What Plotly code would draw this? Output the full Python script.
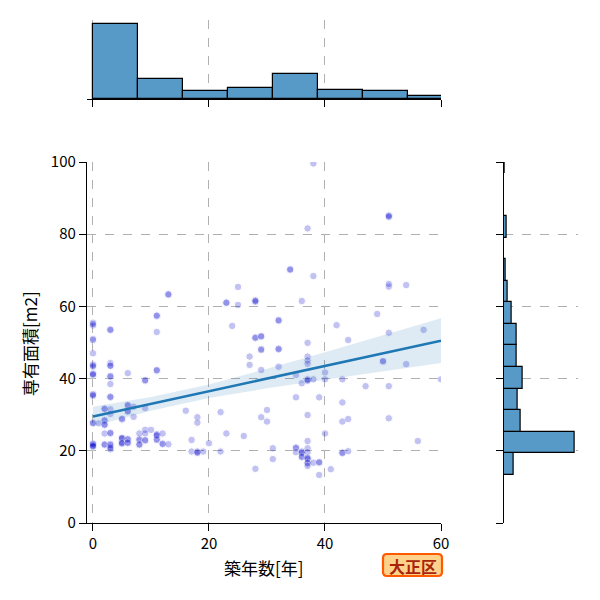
import numpy as np
import plotly.graph_objects as go

# ---------------- data ----------------
age = [
    0, 0, 0, 0, 0, 3, 3, 11, 11, 11, 13, 13, 23, 23, 25, 25, 24, 28, 28, 28, 28, 28, 29, 29,
    32, 32, 29, 29, 32, 32, 38, 37, 51, 51, 51, 34, 34, 38, 36, 51, 51, 54, 49, 42, 44, 51,
    57, 37, 32, 37, 37, 37, 35, 36, 37, 37, 37, 38, 40, 40, 43, 50, 50, 54, 60, 47, 51, 35,
    39, 43, 37, 43, 44, 51, 40, 56, 31, 31, 35, 35, 35, 36, 36, 36, 36, 36, 37, 37, 37, 37,
    37, 37, 37, 37, 37, 38, 39, 39, 39, 41, 43, 43, 44,
    0, 0, 0, 0, 0, 0, 0, 3, 3, 3, 3, 3, 3, 3, 3, 0, 0, 0, 6, 11, 11, 9, 9, 2, 2, 3, 3, 6, 6,
    6, 6, 7, 7, 9, 5, 5, 0, 0, 1, 2, 2, 2, 2, 2, 3, 3, 0, 0, 0, 0, 0, 0, 2, 2, 3, 3, 3, 3, 3,
    5, 5, 5, 5, 5, 5, 6, 6, 6, 6, 8, 8, 8, 8, 8, 9, 9, 9, 9, 10, 11, 11, 11, 11, 11, 12, 12,
    12, 13, 16, 17, 17, 18, 18, 18, 18, 18, 19, 20, 22, 22, 23, 26, 27, 27, 29, 30, 29, 30, 28,
]
area = [
    55.5, 54.7, 55.1, 51.0, 50.7, 53.4, 53.6, 57.3, 57.5, 52.9, 63.2, 63.4, 60.9, 61.1, 65.4,
    60.4, 54.6, 61.5, 61.7, 61.3, 51.2, 51.4, 51.6, 51.8, 56.0, 56.2, 48.2, 47.9, 48.3, 48.1,
    99.6, 81.6, 85.0, 85.2, 84.8, 70.1, 70.3, 68.4, 61.5, 65.5, 66.2, 65.9, 57.9, 54.8, 50.7,
    52.7, 53.5, 49.9, 43.3, 46.1, 45.0, 44.1, 41.0, 38.7, 39.6, 39.8, 39.4, 39.8, 41.7, 39.8,
    39.8, 44.7, 44.9, 44.0, 39.8, 37.9, 37.9, 34.8, 34.8, 33.4, 29.9, 28.1, 28.8, 29.0, 24.8,
    22.7, 20.7, 17.7, 20.7, 20.9, 19.6, 19.6, 19.8, 19.4, 18.2, 18.4, 22.7, 20.7, 19.6, 17.9,
    18.1, 17.7, 16.5, 16.7, 15.8, 16.7, 16.7, 16.9, 13.3, 14.9, 19.3, 19.5, 19.9,
    47.0, 43.9, 43.3, 43.6, 41.4, 41.0, 41.2, 44.3, 43.5, 43.6, 40.5, 40.7, 38.5, 34.8, 35.0,
    35.7, 35.2, 35.5, 41.5, 42.2, 42.4, 39.4, 39.6, 31.5, 31.7, 31.5, 30.2, 32.5, 32.7, 30.8,
    31.0, 32.2, 29.4, 31.8, 28.7, 28.9, 27.8, 27.6, 27.6, 28.3, 28.5, 27.1, 27.3, 24.8, 24.8,
    25.0, 21.4, 21.8, 21.1, 21.6, 22.0, 21.3, 21.6, 21.8, 21.9, 21.1, 20.4, 21.6, 20.8, 23.5,
    23.3, 22.1, 22.3, 23.6, 22.0, 23.3, 22.1, 23.1, 22.3, 23.2, 23.0, 21.6, 21.8, 24.8, 25.8,
    24.8, 22.8, 23.0, 25.8, 24.4, 24.6, 23.2, 23.0, 24.2, 24.8, 21.8, 22.0, 21.8, 31.1, 23.0,
    19.8, 29.3, 27.8, 19.6, 19.8, 19.4, 19.8, 22.1, 30.7, 19.8, 24.8, 24.1, 46.1, 43.8, 42.4,
    31.3, 29.3, 28.1, 15.0,
]

# regression y = 0.35x + 29.51 and its confidence band
slope, intercept = 0.35, 29.51
band_x = [0, 10, 20, 30, 40, 50, 60]
band_lo = [26.8, 31.1, 34.6, 37.3, 39.7, 42.0, 44.3]
band_hi = [32.2, 34.9, 38.4, 42.7, 47.3, 52.0, 56.7]
line_x = [0, 60]

# marginal histograms (counts)
top_start, top_width = 0.0, 7.75
top_counts = [75, 20, 8, 11, 25, 9, 8, 3]
right_start, right_width = 13.3, 5.98
right_counts = [9, 64, 15, 13, 17, 12, 12, 7, 4, 2, 0, 3, 0, 0, 1]

x_ticks = [0, 20, 40, 60]
y_ticks = [0, 20, 40, 60, 80, 100]
equation = "y=0.35x+29.51"
x_title = "築年数[年]"
y_title = "専有面積[m2]"
badge = "大正区"

# ---------------- figure ----------------
FONT = "Noto Sans CJK JP"
HIST_FILL = "#5799c7"
GRID = "#b0b0b0"

fig = go.Figure()

fig.add_trace(go.Scatter(
    x=age, y=area, mode="markers", xaxis="x", yaxis="y",
    marker=dict(color="#0000cd", opacity=0.24, size=7.5,
                line=dict(color="white", width=1)),
    hoverinfo="skip", showlegend=False))

fig.add_trace(go.Scatter(x=band_x, y=band_lo, mode="lines", line=dict(width=0),
                         xaxis="x", yaxis="y", showlegend=False, hoverinfo="skip"))
fig.add_trace(go.Scatter(x=band_x, y=band_hi, mode="lines", line=dict(width=0),
                         fill="tonexty", fillcolor="rgba(31,119,180,0.15)",
                         xaxis="x", yaxis="y", showlegend=False, hoverinfo="skip"))
fig.add_trace(go.Scatter(x=line_x, y=[slope * v + intercept for v in line_x],
                         mode="lines", line=dict(color="#1f77b4", width=2.6),
                         xaxis="x", yaxis="y", showlegend=False, hoverinfo="skip"))

top_centers = [top_start + top_width * (i + 0.5) for i in range(len(top_counts))]
fig.add_trace(go.Bar(x=top_centers, y=top_counts, width=top_width,
                     marker=dict(color=HIST_FILL, line=dict(color="black", width=1.2)),
                     xaxis="x2", yaxis="y2", showlegend=False, hoverinfo="skip"))

right_centers = [right_start + right_width * (i + 0.5) for i in range(len(right_counts))]
fig.add_trace(go.Bar(y=right_centers, x=right_counts, width=right_width, orientation="h",
                     marker=dict(color=HIST_FILL, line=dict(color="black", width=1.2)),
                     xaxis="x3", yaxis="y3", showlegend=False, hoverinfo="skip"))

W = H = 600.0
main_x = [87 / W, 441 / W]
main_y = [1 - 523 / H, 1 - 162 / H]
top_y = [1 - 99 / H, 1 - 20 / H]
right_x = [503.7 / W, 578 / W]

axis_common = dict(showline=True, linecolor="black", linewidth=1.3, ticks="outside",
                   ticklen=7, tickwidth=1.3, tickcolor="black", zeroline=False,
                   showgrid=True, gridcolor=GRID, griddash="dash", gridwidth=1,
                   automargin=False,
                   tickfont=dict(family=FONT, size=15, color="black"))

fig.update_layout(
    template="none",
    width=600, height=600, margin=dict(l=0, r=0, t=0, b=0, pad=0, autoexpand=False),
    paper_bgcolor="white", plot_bgcolor="white", bargap=0, showlegend=False,
    font=dict(family=FONT),
    xaxis=dict(domain=main_x, range=[-1.03, 60], tickvals=x_ticks, anchor="y", **axis_common),
    yaxis=dict(domain=main_y, range=[0, 100], tickvals=y_ticks, anchor="x", **axis_common),
    xaxis2=dict(domain=main_x, range=[-1.03, 60], tickvals=x_ticks, anchor="y2",
                showticklabels=False, **axis_common),
    yaxis2=dict(domain=top_y, range=[0, max(top_counts) * 1.05], visible=False,
                automargin=False),
    xaxis3=dict(domain=right_x, range=[0, max(right_counts) * 1.05], visible=False,
                automargin=False),
    yaxis3=dict(domain=main_y, range=[0, 100], tickvals=y_ticks, anchor="x3",
                showticklabels=False, **axis_common),
)

fig.add_annotation(x=1.6, y=100.4, xref="x", yref="y", text=equation, showarrow=False,
                   xanchor="left", yanchor="middle",
                   font=dict(family=FONT, size=15, color="#0000cd"))
fig.add_annotation(x=264 / W, y=1 - 567 / H, xref="paper", yref="paper", text=x_title,
                   showarrow=False, xanchor="center", yanchor="middle",
                   font=dict(family=FONT, size=17, color="black"))
fig.add_annotation(x=29 / W, y=1 - 344 / H, xref="paper", yref="paper", text=y_title,
                   showarrow=False, xanchor="center", yanchor="middle", textangle=-90,
                   font=dict(family=FONT, size=17, color="black"))

# rounded badge box
bx0, bx1, by0, by1, r = 383 / W, 442 / W, 1 - 576 / H, 1 - 554 / H, 4 / W
path = (f"M {bx0 + r},{by0} L {bx1 - r},{by0} Q {bx1},{by0} {bx1},{by0 + r} "
        f"L {bx1},{by1 - r} Q {bx1},{by1} {bx1 - r},{by1} L {bx0 + r},{by1} "
        f"Q {bx0},{by1} {bx0},{by1 - r} L {bx0},{by0 + r} Q {bx0},{by0} {bx0 + r},{by0} Z")
fig.add_shape(type="path", path=path, xref="paper", yref="paper",
              fillcolor="#ffd28c", line=dict(color="#ff5a00", width=2.2))
fig.add_annotation(x=412.5 / W, y=1 - 565.5 / H, xref="paper", yref="paper",
                   text=f"<b>{badge}</b>", showarrow=False, xanchor="center", yanchor="middle",
                   font=dict(family=FONT, size=16, color="#a8240a"))

fig.write_html("out.html")
